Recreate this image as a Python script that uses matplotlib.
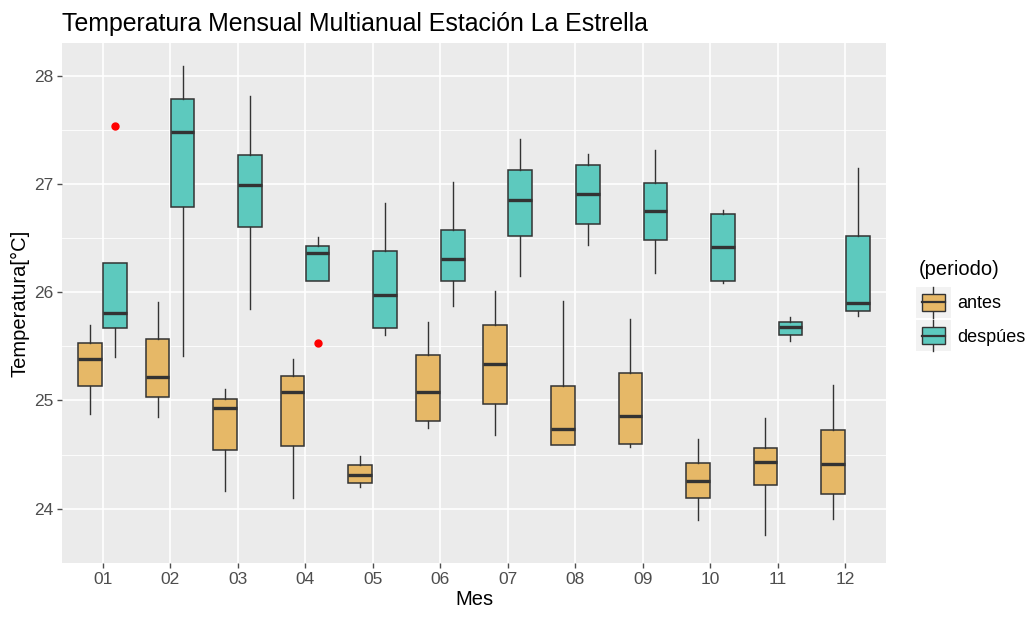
import matplotlib
matplotlib.use("Agg")
import matplotlib.pyplot as plt
from matplotlib.legend_handler import HandlerBase
from matplotlib.patches import Rectangle
from matplotlib.lines import Line2D
import numpy as np

plt.rcParams["font.family"] = ["Liberation Sans", "DejaVu Sans"]

months = ["01", "02", "03", "04", "05", "06", "07", "08", "09", "10", "11", "12"]

# boxplot stats: lower whisker, q1, median, q3, upper whisker
antes_wlo = [24.875, 24.85, 24.16, 24.10, 24.20, 24.75, 24.68, 24.59, 24.57, 23.90, 23.76, 23.91]
antes_q1  = [25.13, 25.03, 24.54, 24.58, 24.24, 24.81, 24.97, 24.59, 24.60, 24.10, 24.22, 24.14]
antes_med = [25.385, 25.22, 24.93, 25.08, 24.31, 25.08, 25.34, 24.735, 24.86, 24.26, 24.43, 24.41]
antes_q3  = [25.53, 25.57, 25.01, 25.23, 24.40, 25.42, 25.695, 25.13, 25.255, 24.42, 24.56, 24.73]
antes_whi = [25.695, 25.91, 25.11, 25.38, 24.49, 25.72, 26.01, 25.92, 25.75, 24.64, 24.84, 25.145]

desp_wlo = [25.40, 25.41, 25.84, 26.10, 25.60, 25.87, 26.15, 26.44, 26.18, 26.08, 25.55, 25.78]
desp_q1  = [25.667, 26.79, 26.60, 26.10, 25.665, 26.10, 26.52, 26.63, 26.48, 26.10, 25.60, 25.83]
desp_med = [25.81, 27.48, 26.99, 26.36, 25.975, 26.31, 26.85, 26.91, 26.75, 26.42, 25.68, 25.90]
desp_q3  = [26.27, 27.78, 27.27, 26.43, 26.38, 26.57, 27.13, 27.17, 27.01, 26.72, 25.72, 26.52]
desp_whi = [26.27, 28.09, 27.81, 26.51, 26.825, 27.02, 27.41, 27.28, 27.31, 26.76, 25.77, 27.15]

# outliers (month index, value) for the después group
desp_out = {0: [27.53], 3: [25.53]}

C_ANTES = "#E6B867"
C_DESP = "#5DC9BE"
EDGE = "#333333"


def make_stats(wlo, q1, med, q3, whi, outliers=None):
    stats = []
    for i in range(len(wlo)):
        stats.append(dict(whislo=wlo[i], q1=q1[i], med=med[i], q3=q3[i], whishi=whi[i],
                          fliers=(outliers or {}).get(i, [])))
    return stats


fig = plt.figure(figsize=(10.29, 6.2), dpi=100)
ax = fig.add_axes([0.0603, 0.092, 0.8007, 0.8386])
ax.set_facecolor("#EBEBEB")

x = np.arange(1, len(months) + 1)
off = 0.185
bw = 0.35

for stats, pos, col in [
    (make_stats(antes_wlo, antes_q1, antes_med, antes_q3, antes_whi), x - off, C_ANTES),
    (make_stats(desp_wlo, desp_q1, desp_med, desp_q3, desp_whi, desp_out), x + off, C_DESP),
]:
    ax.bxp(stats, positions=pos, widths=bw, patch_artist=True, showcaps=False,
           boxprops=dict(facecolor=col, edgecolor=EDGE, linewidth=1.1),
           medianprops=dict(color=EDGE, linewidth=2.4),
           whiskerprops=dict(color=EDGE, linewidth=1.0),
           flierprops=dict(marker="o", markerfacecolor="red", markeredgecolor="red",
                           markersize=5),
           manage_ticks=False, zorder=3)

ax.set_xlim(0.4, 12.6)
ax.set_ylim(23.56, 28.30)
ax.set_xticks(x)
ax.set_xticklabels(months)
ax.set_yticks([24, 25, 26, 27, 28])
ax.set_yticks([23.5, 24.5, 25.5, 26.5, 27.5], minor=True)
ax.grid(True, which="major", color="white", linewidth=1.2, zorder=0)
ax.grid(True, which="minor", axis="y", color="white", linewidth=0.6, zorder=0)
ax.set_axisbelow(True)
for s in ax.spines.values():
    s.set_visible(False)
ax.tick_params(which="major", colors="#4D4D4D", labelsize=12.5, length=3.5, width=1, pad=3)
ax.tick_params(which="minor", length=0)
ax.tick_params(axis="y", labelcolor="#4D4D4D")

ax.set_xlabel("Mes", fontsize=14.5, color="black", labelpad=2)
ax.set_ylabel("Temperatura[°C]", fontsize=14.5, color="black", labelpad=3)
fig.text(0.0603, 0.962, "Temperatura Mensual Multianual Estación La Estrella",
         fontsize=17.9, ha="left", va="center")


class BoxHandler(HandlerBase):
    def __init__(self, color):
        super().__init__()
        self.color = color

    def create_artists(self, legend, orig_handle, xdescent, ydescent, width, height,
                       fontsize, trans):
        bg = Rectangle((-xdescent - 2, -ydescent - 5), width + 4, height + 10,
                       facecolor="#F2F2F2", edgecolor="none", transform=trans)
        cx = -xdescent + width / 2
        y0 = -ydescent
        wl = Line2D([cx, cx], [y0 - 5, y0 + height + 5], color=EDGE, lw=1.0, transform=trans)
        box = Rectangle((-xdescent + 2, y0), width - 4, height, facecolor=self.color,
                        edgecolor=EDGE, lw=1.0, transform=trans)
        med = Line2D([-xdescent + 2, -xdescent + width - 2], [y0 + height / 2] * 2,
                     color=EDGE, lw=1.6, transform=trans)
        return [bg, wl, box, med]


h1 = Rectangle((0, 0), 1, 1)
h2 = Rectangle((0, 0), 1, 1, label="b")
leg = fig.legend([h1, h2], ["antes", "despúes"],
                 handler_map={h1: BoxHandler(C_ANTES), h2: BoxHandler(C_DESP)},
                 loc="upper left", bbox_to_anchor=(0.886, 0.592),
                 title="(periodo)", title_fontsize=14.5, fontsize=13,
                 frameon=False, handlelength=1.6, handleheight=1.1,
                 labelspacing=0.8, handletextpad=0.55, borderaxespad=0)
leg._legend_box.align = "left"

fig.savefig("out.png", dpi=100)
